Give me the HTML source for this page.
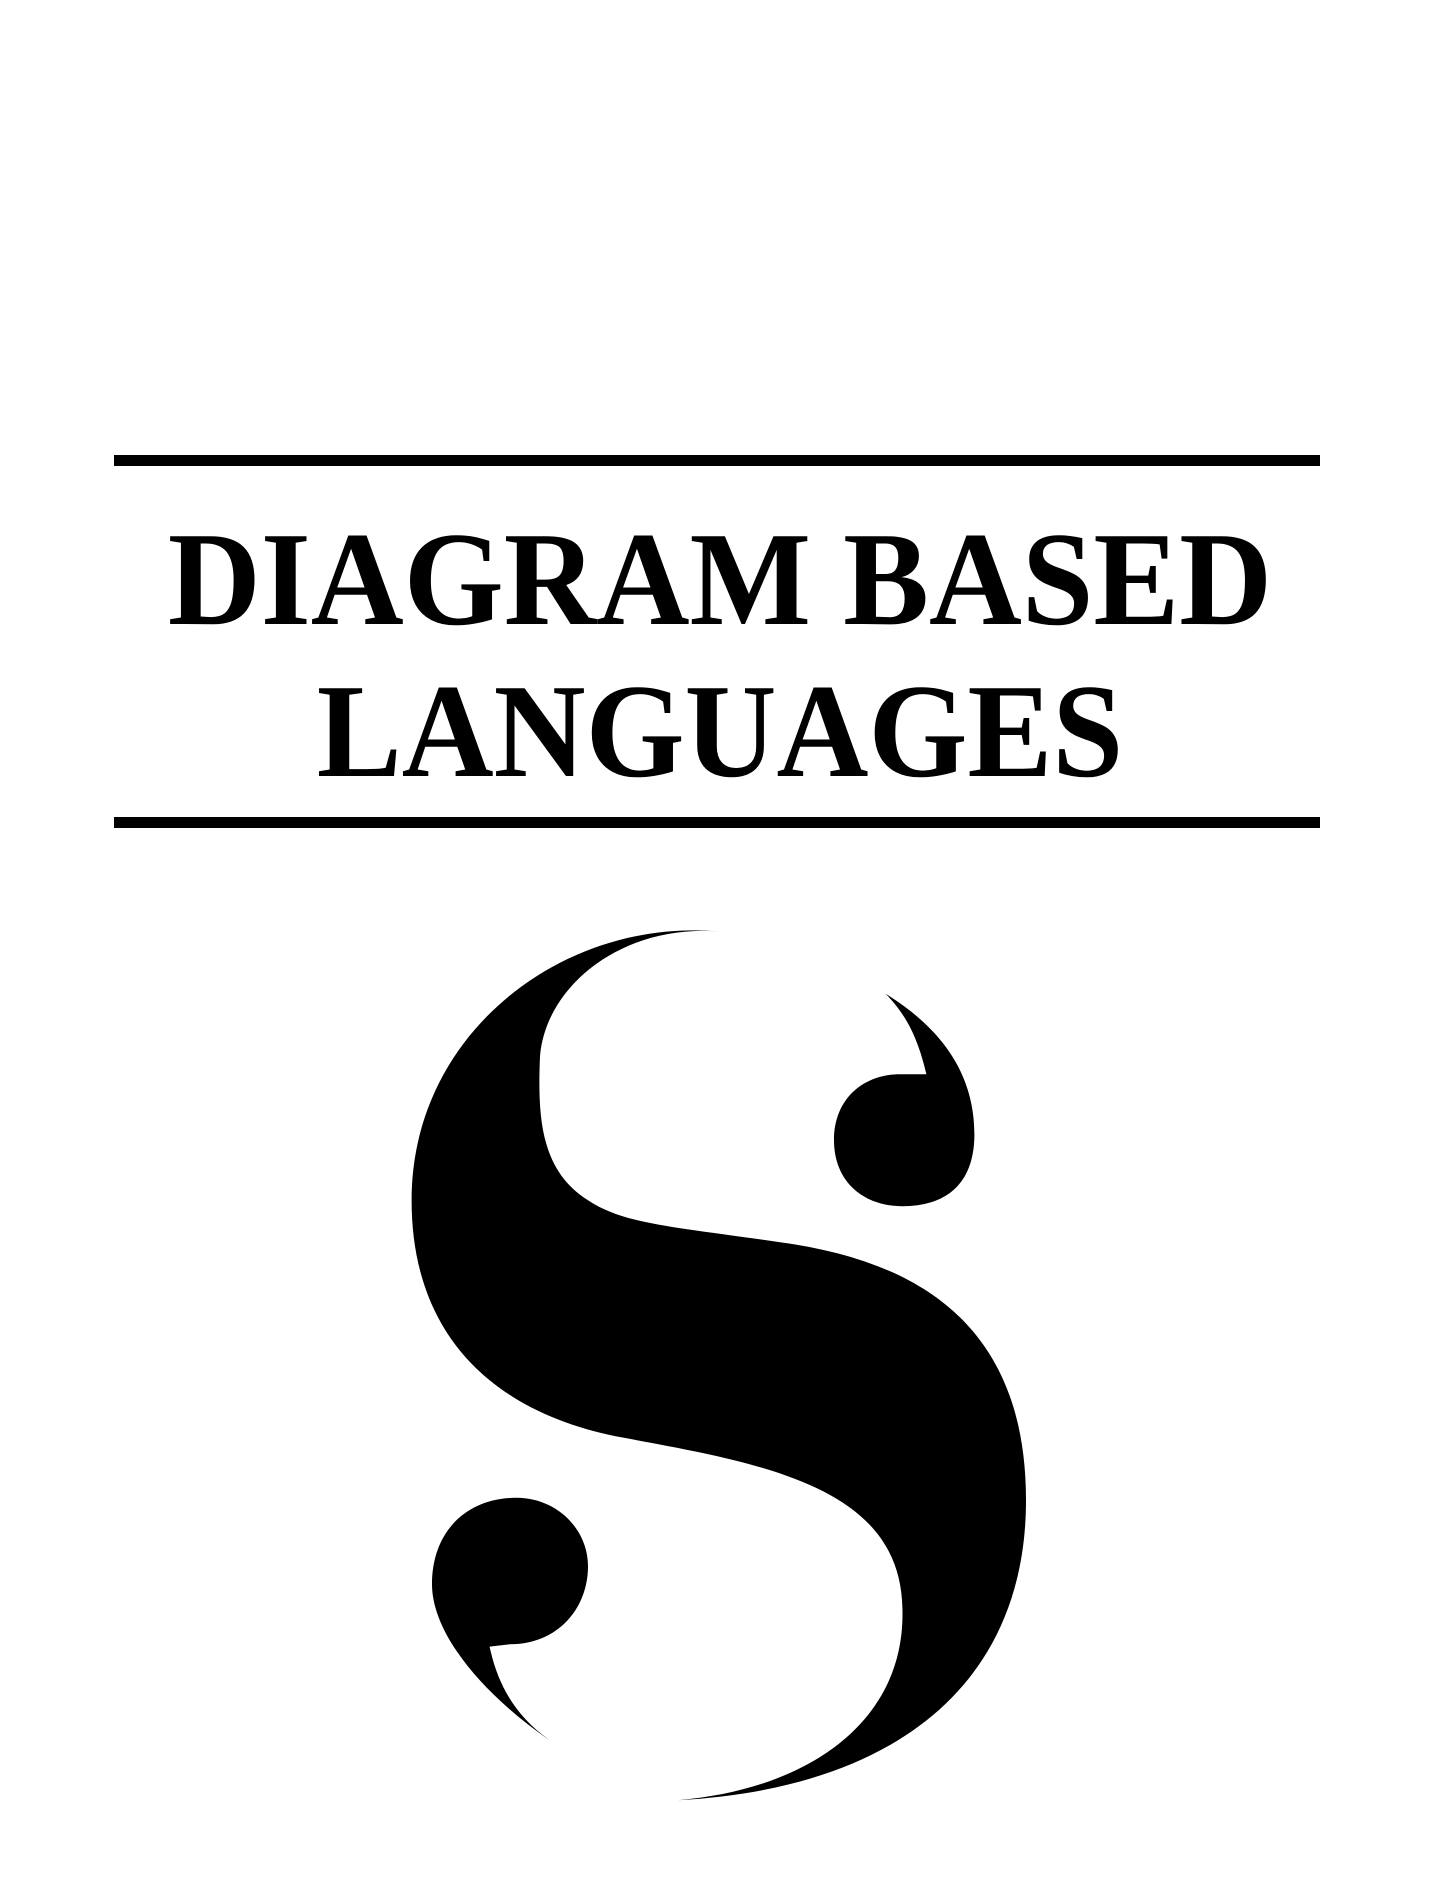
<!DOCTYPE html>
<html>
<head>
<meta charset="utf-8">
<style>
  html,body{margin:0;padding:0;background:#fff;}
  body{width:1440px;height:1888px;position:relative;overflow:hidden;}
  .rule{position:absolute;left:114px;width:1206px;height:11px;background:#000;}
  .t{position:absolute;left:0;width:1440px;text-align:center;font-family:"Liberation Serif","Times New Roman",Times,serif;font-weight:bold;font-size:134px;line-height:1;color:#000;white-space:nowrap;transform-origin:720px 0;}
  svg{position:absolute;left:0;top:0;}
</style>
</head>
<body>
<div class="rule" style="top:455px"></div>
<div class="t" style="top:512px;transform:scaleX(0.96)">DIAGRAM BASED</div>
<div class="t" style="top:664px;transform:scaleX(0.95)">LANGUAGES</div>
<div class="rule" style="top:817px"></div>
<svg width="1440" height="1888" viewBox="0 0 1200 1573">
  <path fill="#000" d="M598,776 C470,765 343,860 343,1000 C343,1120 420,1180 520,1198 C640,1220 750,1240 752,1340 C755,1430 680,1490 565,1500 C750,1490 855,1400 855,1250 C855,1100 760,1050 650,1035 C560,1022 520,1020 490,1000 C450,975 448,930 450,880 C455,820 520,770 598,776 Z"/>
  <path fill="#000" d="M738,828 C790,860 812,900 812,945 C812,985 790,1005 752,1005 C720,1005 695,985 695,950 C695,915 720,895 750,895 L772,895 C765,865 755,845 738,828 Z"/>
  <path fill="#000" d="M458,1450 C400,1410 360,1360 360,1320 C360,1275 390,1248 430,1248 C465,1248 490,1275 490,1305 C490,1340 465,1370 425,1370 L408,1372 C415,1405 430,1430 458,1450 Z"/>
</svg>
</body>
</html>
